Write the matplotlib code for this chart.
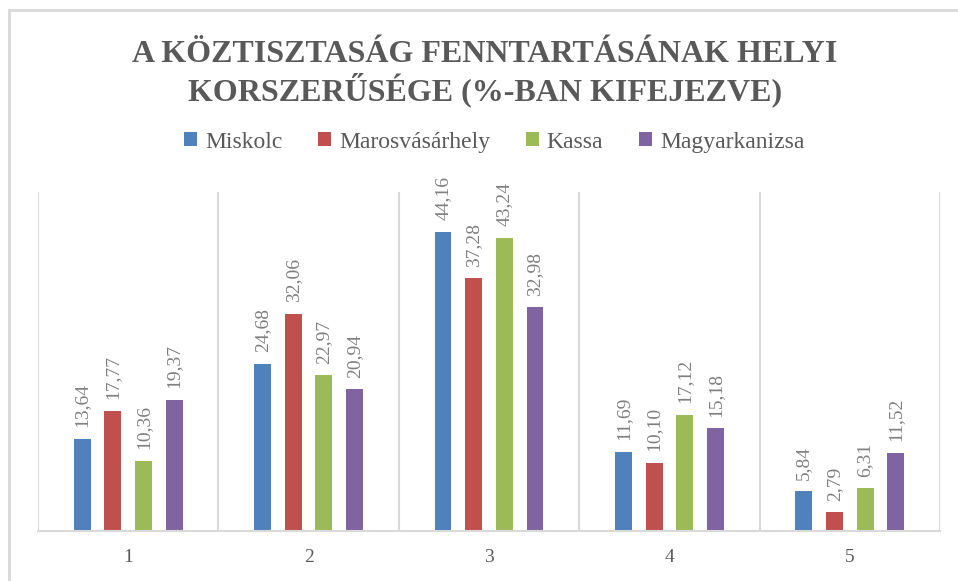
import matplotlib.pyplot as plt
from matplotlib.patches import Rectangle
import numpy as np

categories = ['1', '2', '3', '4', '5']
series_names = ['Miskolc', 'Marosvásárhely', 'Kassa', 'Magyarkanizsa']
miskolc = [13.64, 24.68, 44.16, 11.69, 5.84]
marosvasarhely = [17.77, 32.06, 37.28, 10.10, 2.79]
kassa = [10.36, 22.97, 43.24, 17.12, 6.31]
magyarkanizsa = [19.37, 20.94, 32.98, 15.18, 11.52]

colors = ['#4F81BD', '#C0504D', '#9BBB59', '#8064A2']
text_grey = '#595959'
label_grey = '#7F7F7F'
grid_grey = '#D9D9D9'

plt.rcParams['font.family'] = ['Liberation Serif', 'DejaVu Serif']

fig = plt.figure(figsize=(9.58, 5.81), dpi=100)
ax = fig.add_axes([38 / 958, 1 - 531 / 581, (940 - 38) / 958, (531 - 192) / 581])

# outer chart frame (only top/left edges fall inside the image)
fig.patches.append(Rectangle((9 / 958, -0.1), 1.2, 1 - 10 / 581 + 0.1,
                             transform=fig.transFigure, fill=False,
                             edgecolor=grid_grey, linewidth=2))

x = np.arange(len(categories))
step = 0.17
width = 0.094
data = [miskolc, marosvasarhely, kassa, magyarkanizsa]
for i, (name, vals) in enumerate(zip(series_names, data)):
    pos = x + (i - 1.5) * step
    ax.bar(pos, vals, width, color=colors[i], label=name)
    for px, v in zip(pos, vals):
        ax.text(px, v + 1.7, f'{v:.2f}'.replace('.', ','), rotation=90,
                ha='center', va='bottom', fontsize=14, color=label_grey)

ax.set_xlim(-0.5, 4.5)
ax.set_ylim(0, 50)
ax.set_yticks([])
ax.set_xticks(x)
ax.set_xticklabels(categories, fontsize=14, color=text_grey)
ax.tick_params(axis='x', length=0, pad=13)
for b in np.arange(-0.5, 5.0, 1.0):
    ax.axvline(b, color=grid_grey, linewidth=1.5, zorder=0)
for s in ['top', 'left', 'right']:
    ax.spines[s].set_visible(False)
ax.spines['bottom'].set_color(grid_grey)
ax.spines['bottom'].set_linewidth(1.5)

fig.text(485 / 958, 1 - 74 / 581, 'A KÖZTISZTASÁG FENNTARTÁSÁNAK HELYI\nKORSZERŰSÉGE (%-BAN KIFEJEZVE)',
         ha='center', va='center', fontsize=23, fontweight='bold', color=text_grey,
         linespacing=1.12)

fig.legend(loc='center', bbox_to_anchor=(494 / 958, 1 - 142 / 581), ncol=4, frameon=False,
           fontsize=17, handlelength=0.55, handleheight=0.55, handletextpad=0.35,
           columnspacing=1.5, labelcolor=text_grey)

fig.savefig('out.png', dpi=100)
